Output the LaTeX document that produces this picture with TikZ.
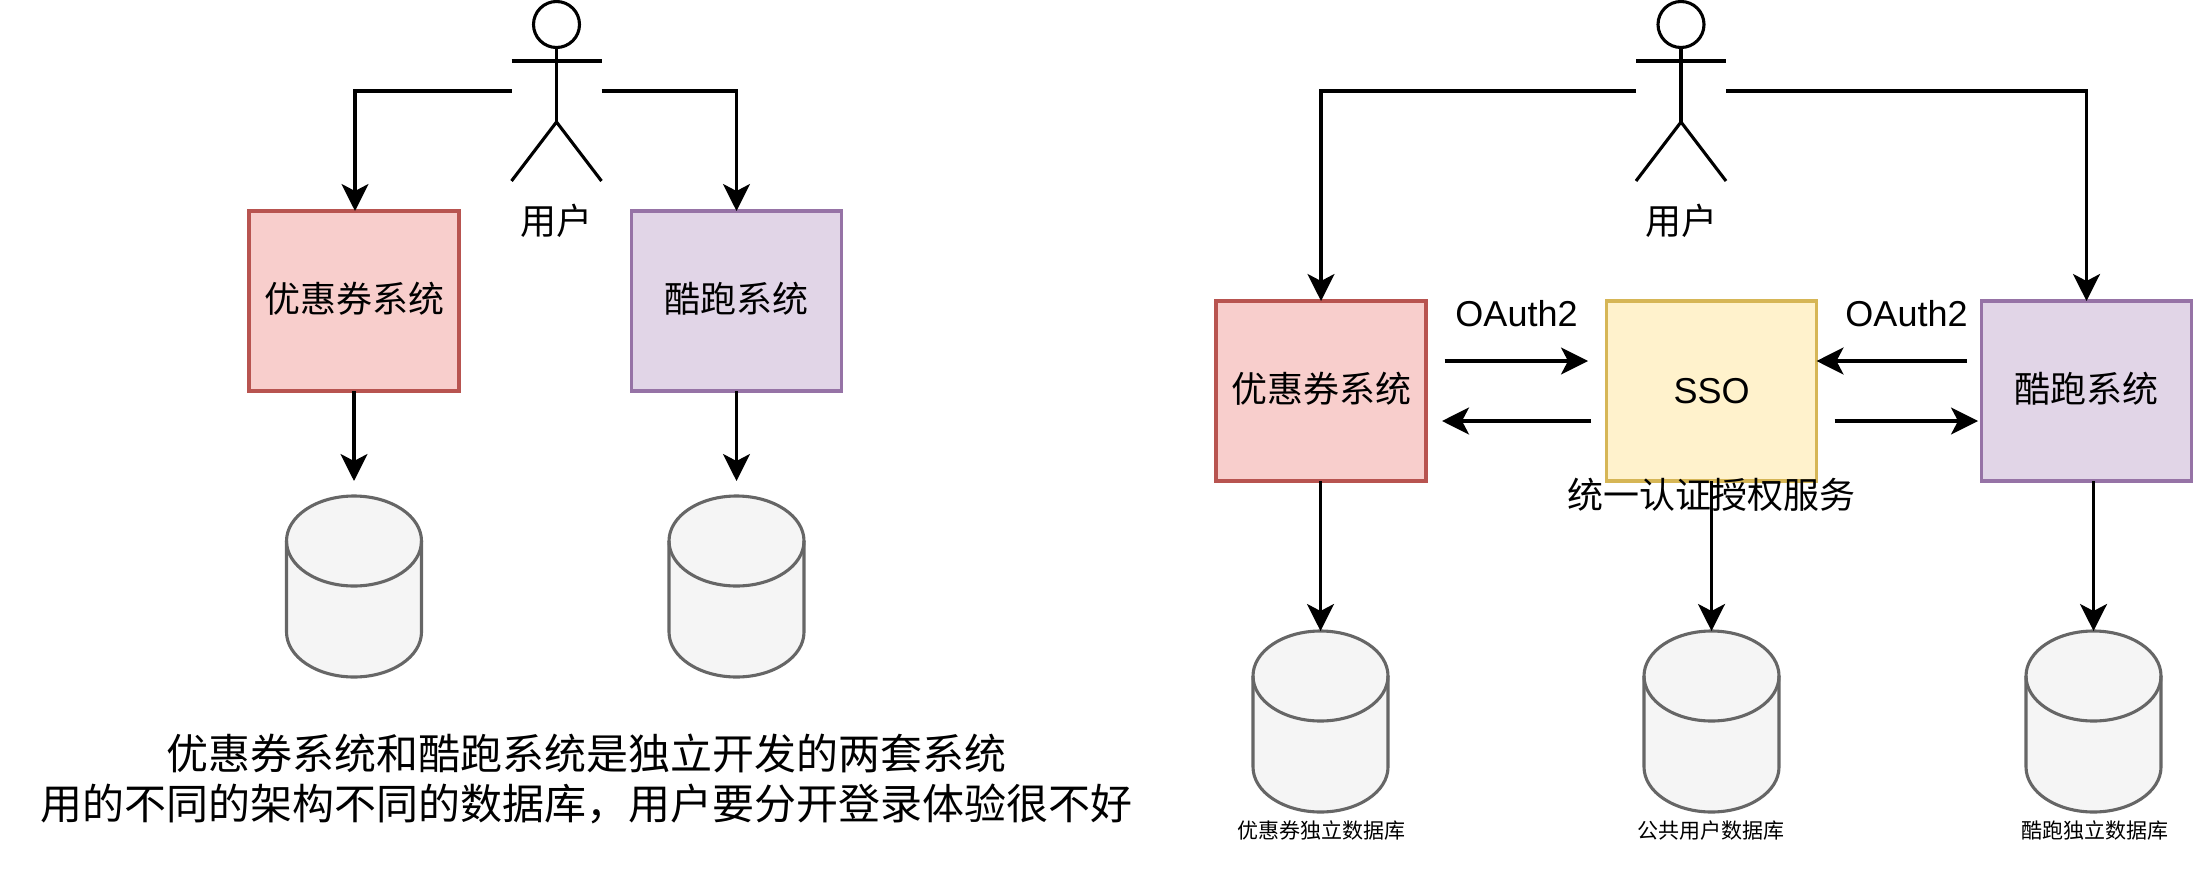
\documentclass[tikz,border=0pt]{standalone}
\usepackage{fontspec}
\setmainfont{Liberation Sans}
\newfontfamily\cjk{Noto Sans CJK SC}
\usetikzlibrary{arrows.meta}
\definecolor{redfill}{HTML}{F8CECC}\definecolor{redline}{HTML}{B85450}
\definecolor{purplefill}{HTML}{E1D5E7}\definecolor{purpleline}{HTML}{9673A6}
\definecolor{yellowfill}{HTML}{FFF2CC}\definecolor{yellowline}{HTML}{D6B656}
\definecolor{greyfill}{HTML}{F5F5F5}\definecolor{greyline}{HTML}{666666}
\tikzset{
  x=1pt,y=-1pt,
  sysbox/.style={draw,line width=3.1pt,minimum width=210pt,minimum height=180pt,inner sep=0pt,outer sep=0pt,font=\fontsize{36}{40}\selectfont\cjk},
  redbox/.style={sysbox,fill=redfill,draw=redline},
  purplebox/.style={sysbox,fill=purplefill,draw=purpleline},
  yellowbox/.style={sysbox,fill=yellowfill,draw=yellowline},
  dbframe/.style={minimum width=135pt,minimum height=181pt,inner sep=0pt,outer sep=0pt},
  dbbody/.style={draw=greyline,fill=greyfill,line width=3.1pt},
  flow/.style={draw=black,line width=3.2pt,-{Stealth[length=27pt,width=27pt,inset=7pt]}},
  actorframe/.style={minimum width=90pt,minimum height=181pt,inner sep=0pt,outer sep=0pt},
  actorline/.style={line width=3.1pt,draw=black},
  lab36/.style={inner sep=0pt,font=\fontsize{36}{40}\selectfont\cjk},
  lablat/.style={inner sep=0pt,font=\fontsize{36}{40}\selectfont},
  lab21/.style={inner sep=0pt,font=\fontsize{21}{24}\selectfont\cjk},
  lab42/.style={inner sep=0pt,align=center,font=\fontsize{42}{50}\selectfont\cjk},
}
\newcommand{\stickman}[1]{%
  \draw[actorline] (#1,24.5) circle[radius=23];
  \draw[actorline] (#1,47.5) -- (#1,122);
  \draw[actorline] (#1-45,61) -- (#1+45,61);
  \draw[actorline] (#1-45,181) -- (#1,122) -- (#1+45,181);
}
% name, centre x, top y: an empty frame node that connectors can reach, with the can drawn in it
\newcommand{\dbcan}[3]{%
  \node[dbframe,anchor=north] (#1) at (#2,#3) {};
  \draw[dbbody] (#2-67.5,#3+45) -- (#2-67.5,#3+136)
    .. controls (#2-67.5,#3+160.85) and (#2-37.3,#3+181) .. (#2,#3+181)
    .. controls (#2+37.3,#3+181) and (#2+67.5,#3+160.85) .. (#2+67.5,#3+136)
    -- (#2+67.5,#3+45)
    .. controls (#2+67.5,#3+20.15) and (#2+37.3,#3) .. (#2,#3)
    .. controls (#2-37.3,#3) and (#2-67.5,#3+20.15) .. (#2-67.5,#3+45) -- cycle;
  \draw[dbbody,fill=none] (#2-67.5,#3+45)
    .. controls (#2-67.5,#3+69.85) and (#2-37.3,#3+90) .. (#2,#3+90)
    .. controls (#2+37.3,#3+90) and (#2+67.5,#3+69.85) .. (#2+67.5,#3+45);
}
\newcommand{\up}[1]{\raisebox{-11.7pt}[0pt][0pt]{#1}}
\begin{document}
\begin{tikzpicture}
\useasboundingbox (0,0) rectangle (2202,888);
% left side
\node[actorframe] (actorL) at (556.5,91) {};
\stickman{556.5}
\node[lab36] (userL) at (556.5,221) {用户};
\node[redbox,anchor=north] (couponL) at (354,211) {\up{优惠券系统}};
\node[purplebox,anchor=north] (runL) at (736.5,211) {\up{酷跑系统}};
\dbcan{dbA}{354}{496}
\dbcan{dbB}{736.5}{496}
\draw[flow] (actorL.west) -| ([xshift=1pt]couponL.north);
\draw[flow] (actorL.east) -| (runL.north);
\coordinate (dbAtip) at (354,481);
\coordinate (dbBtip) at (736.5,481);
\draw[flow] (couponL.south) -- (dbAtip);
\draw[flow] (runL.south) -- (dbBtip);
\node[lab42] (caption) at (586.5,779) {优惠券系统和酷跑系统是独立开发的两套系统\\用的不同的架构不同的数据库，用户要分开登录体验很不好};
% right side
\node[actorframe] (actorR) at (1681,91) {};
\stickman{1681}
\node[lab36] (userR) at (1681,221) {用户};
\node[redbox,anchor=north] (couponR) at (1321,301) {\up{优惠券系统}};
\node[yellowbox,anchor=north] (sso) at (1711.5,301) {\normalfont SSO};
\node[purplebox,anchor=north] (runR) at (2086.5,301) {\up{酷跑系统}};
\dbcan{dbC}{1320.5}{631}
\dbcan{dbD}{1711.5}{631}
\dbcan{dbE}{2093.5}{631}
\draw[flow] (actorR.west) -| (couponR.north);
\draw[flow] (actorR.east) -| (runR.north);
\draw[flow] (couponR.south -| dbC.north) -- (dbC.north);
\draw[flow] (sso.south) -- (dbD.north);
\draw[flow] (runR.south -| dbE.north) -- (dbE.north);
\coordinate (a1s) at (1444.5,361); \coordinate (a1e) at (1588,361);
\coordinate (a2s) at (1967,361);
\coordinate (a3s) at (1591,421); \coordinate (a3e) at (1442,421);
\coordinate (a4s) at (1834.5,421); \coordinate (a4e) at (1978,421);
\draw[flow] (a1s) -- (a1e);
\draw[flow] (a2s) -- (a2s -| sso.east);
\draw[flow] (a3s) -- (a3e);
\draw[flow] (a4s) -- (a4e);
\node[lablat] (oa1) at (1516.5,314) {OAuth2};
\node[lablat] (oa2) at (1906.5,314) {OAuth2};
\node[lab36] (ssosub) at (1711,495) {统一认证授权服务};
\node[lab21] (l1) at (1321,830.5) {优惠券独立数据库};
\node[lab21] (l2) at (1711,830.5) {公共用户数据库};
\node[lab21] (l3) at (2094.5,830.5) {酷跑独立数据库};
\end{tikzpicture}
\end{document}
